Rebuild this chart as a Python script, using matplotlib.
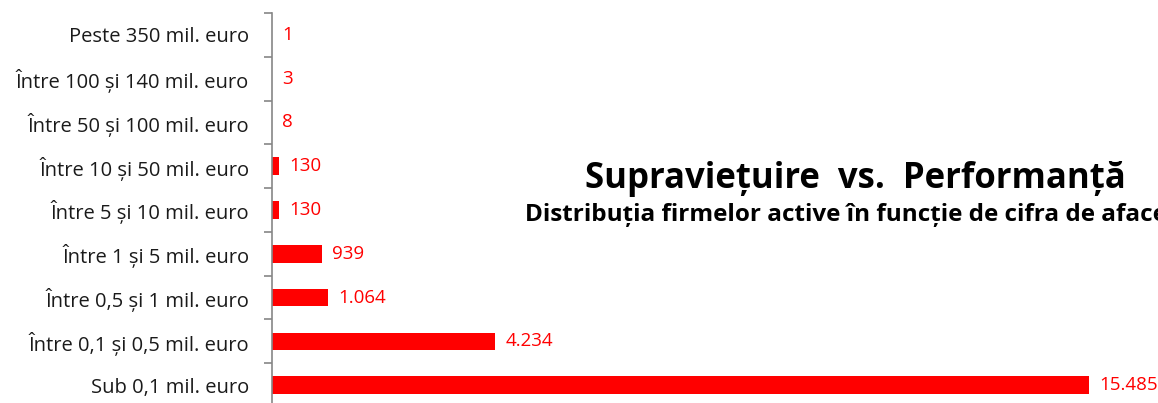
import matplotlib.pyplot as plt

categories = ['Sub 0,1 mil. euro', 'Între 0,1 și 0,5 mil. euro', 'Între 0,5 și 1 mil. euro',
              'Între 1 și 5 mil. euro', 'Între 5 și 10 mil. euro', 'Între 10 și 50 mil. euro',
              'Între 50 și 100 mil. euro', 'Între 100 și 140 mil. euro', 'Peste 350 mil. euro']
values = [15485, 4234, 1064, 939, 130, 130, 8, 3, 1]
value_labels = ['15.485', '4.234', '1.064', '939', '130', '130', '8', '3', '1']

plt.rcParams['font.family'] = ['Open Sans', 'DejaVu Sans']

fig = plt.figure(figsize=(11.58, 4.03), dpi=100)
ax = fig.add_axes([272 / 1158, -4 / 403, 886 / 1158, 394 / 403])

pos = list(range(len(categories)))
ax.barh(pos, values, height=0.4, color='#ff0000')
for p, v, lab in zip(pos, values, value_labels):
    ax.annotate(lab, (v, p), xytext=(10, 0), textcoords='offset pixels',
                va='center', ha='left', color='#ff0000', fontsize=13.5)

ax.set_xlim(0, 886 / 817 * 15485)
ax.set_ylim(-0.5, len(categories) - 0.5)
ax.set_yticks(pos)
ax.set_yticklabels(categories, fontsize=14.5, color='#1a1a1a')
ax.set_yticks([p + 0.5 for p in pos], minor=True)
ax.tick_params(axis='y', which='major', length=0, pad=16.5)
ax.tick_params(axis='y', which='minor', length=6, color='#868686', width=1.2)
ax.set_xticks([])
for s in ['top', 'right', 'bottom']:
    ax.spines[s].set_visible(False)
ax.spines['left'].set_color('#868686')
ax.spines['left'].set_linewidth(1.2)

fig.text(855 / 1158, 1 - 179 / 403, 'Supraviețuire  vs.  Performanță', ha='center', va='center',
         fontsize=25, fontweight='bold', color='black')
fig.text(855 / 1158, 1 - 215 / 403, 'Distribuția firmelor active în funcție de cifra de afaceri',
         ha='center', va='center', fontsize=17.5, fontweight='bold', color='black')

fig.savefig('out.png', dpi=100)
